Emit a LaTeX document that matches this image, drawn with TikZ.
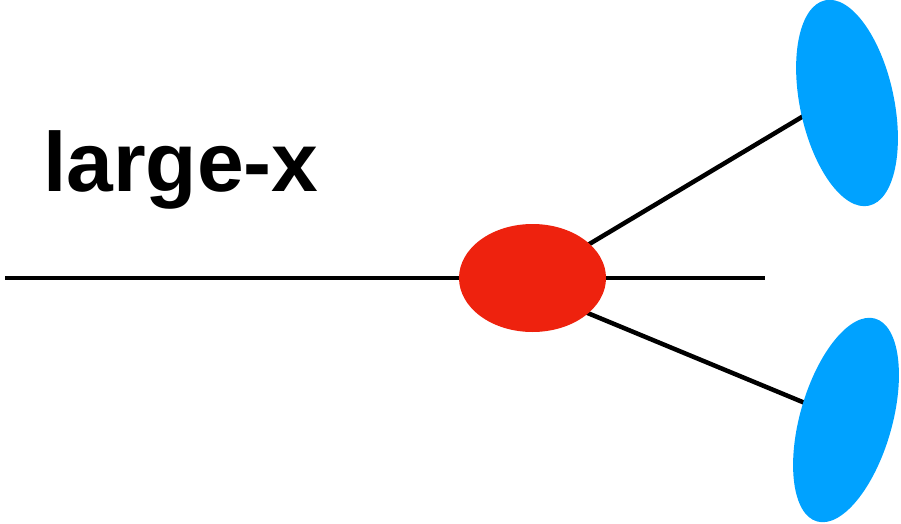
\documentclass[tikz,border=0pt]{standalone}
\usepackage{fontspec}
\setmainfont{Liberation Sans}
\usetikzlibrary{shapes.geometric,backgrounds}
\definecolor{blobred}{RGB}{238,34,14}
\definecolor{blobblue}{RGB}{0,162,255}
\tikzset{
  wire/.style={line width=4.5pt, black},
  blob/.style={ellipse, inner sep=0pt, draw=none},
}
\begin{document}
\begin{tikzpicture}[x=1pt,y=-1pt]
\useasboundingbox (0,0) rectangle (901,524);
% hidden end points
\coordinate (lstart) at (5,278);
\coordinate (lend) at (765,278);
\coordinate (lowstart) at (532,290);
\coordinate (upend) at (847,90);
% nodes
\node[blob, fill=blobred, minimum width=147pt, minimum height=108pt] (vertex) at (532.5,278) {};
\node[blob, fill=blobblue, minimum width=94pt, minimum height=210pt, rotate=12] (upblob) at (847,103) {};
\node[blob, fill=blobblue, minimum width=92pt, minimum height=211pt, rotate=-16] (lowblob) at (846,420) {};
\node[inner sep=0pt, anchor=base west, font=\fontsize{84}{90}\selectfont\bfseries] (label) at (43,191) {large-x};
% wires behind the blobs
\begin{scope}[on background layer]
\draw[wire] (lstart) -- (lend);
\draw[wire] (vertex.center) -- (upend);
\draw[wire] (lowstart) -- (lowblob.center);
\end{scope}
\end{tikzpicture}
\end{document}
